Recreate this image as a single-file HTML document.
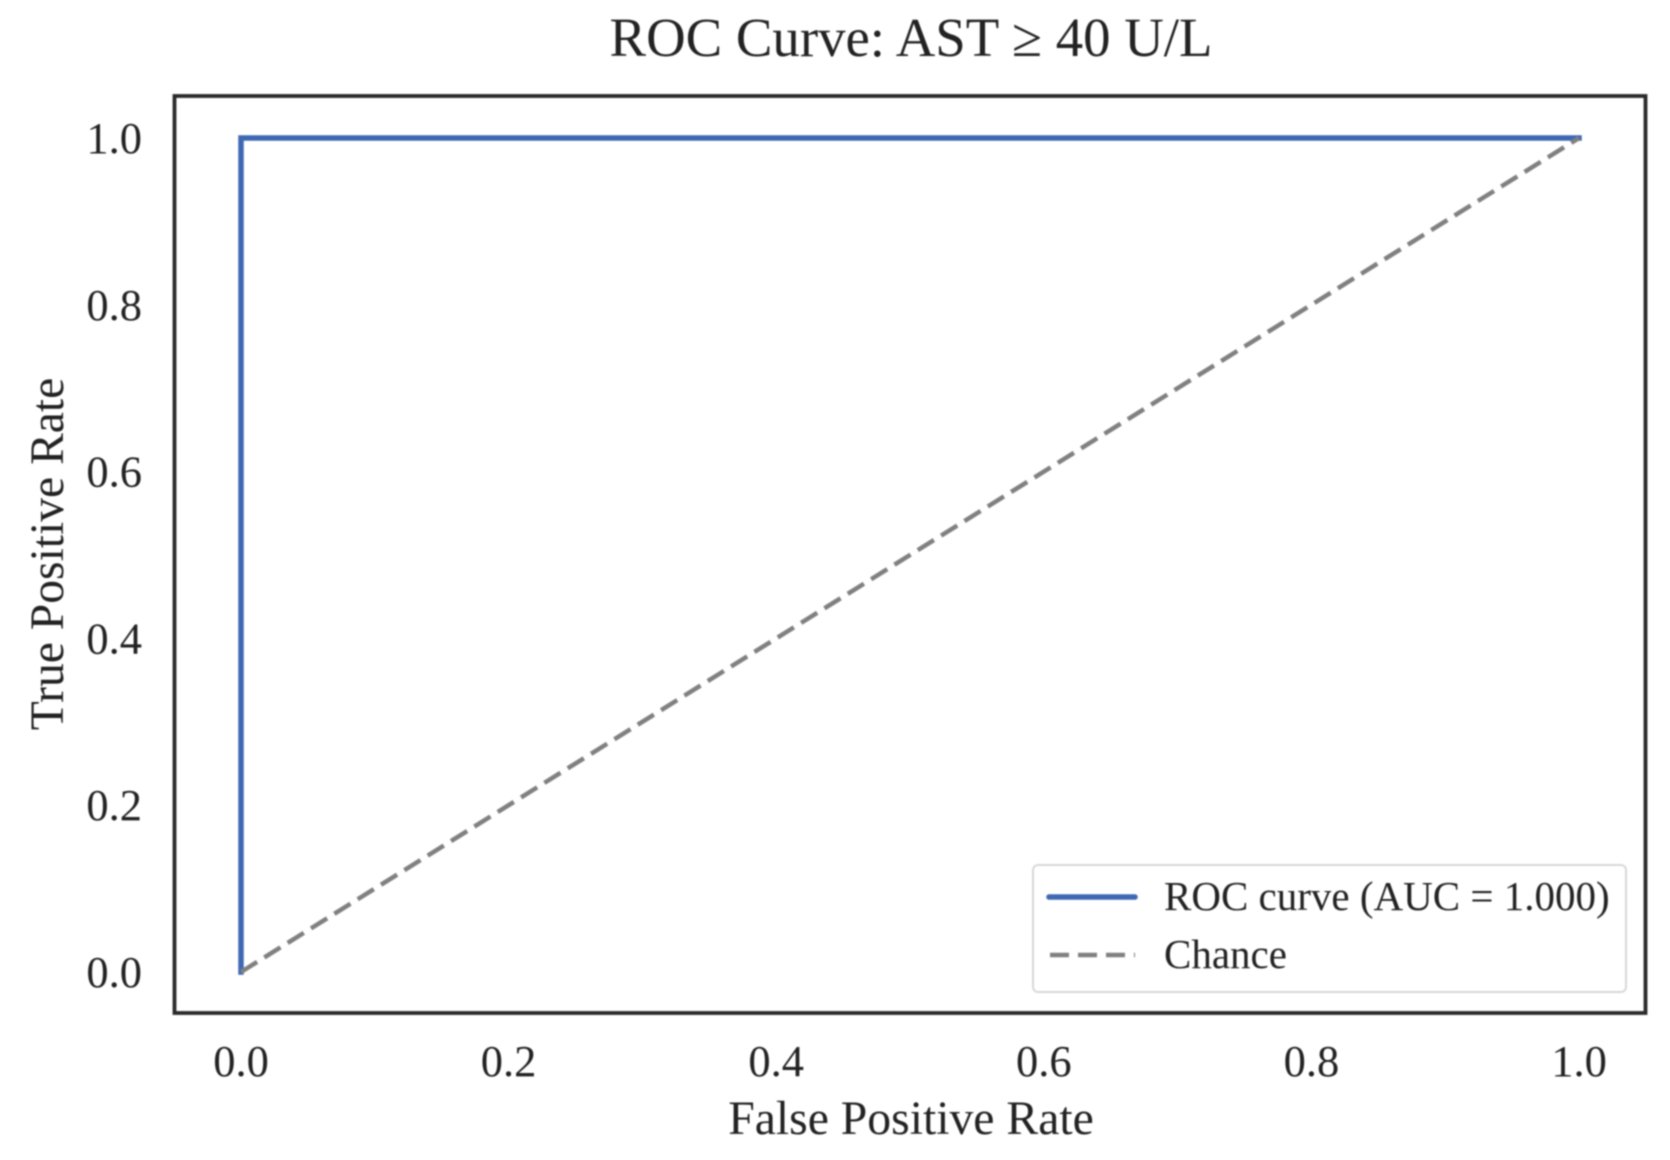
<!DOCTYPE html>
<html lang="en">
<head>
<meta charset="utf-8">
<title>ROC Curve: AST ≥ 40 U/L</title>
<style>
  html, body { margin: 0; padding: 0; background: #fff; }
  svg { display: block; filter: blur(0.9px); }
  text { font-family: "Liberation Serif", "Times New Roman", serif; fill: #222222; }
</style>
</head>
<body>
<svg id="chart" xmlns="http://www.w3.org/2000/svg" width="1670" height="1160" viewBox="0 0 1670 1160">
  <rect x="0" y="0" width="1670" height="1160" fill="#ffffff"/>
  <text x="911" y="56" font-size="54.8" text-anchor="middle">ROC Curve: AST ≥ 40 U/L</text>
  <rect x="174.5" y="96" width="1471" height="917" fill="#ffffff" stroke="#2a2a2a" stroke-width="3.8"/>
  <g id="x-ticks"></g>
  <g id="y-ticks"></g>
  <g id="series"></g>
  <text x="911" y="1134" font-size="47.7" text-anchor="middle">False Positive Rate</text>
  <text transform="translate(63 554) rotate(-90)" font-size="47.6" text-anchor="middle">True Positive Rate</text>
  <g>
    <rect x="1033" y="865" width="593" height="127" rx="5" fill="#ffffff" stroke="#d8d8d8" stroke-width="2"/>
    <line x1="1049" y1="897" x2="1135" y2="897" stroke="#3f68b3" stroke-width="5.5" stroke-linecap="round"/>
    <text x="1164" y="910" font-size="41">ROC curve (AUC = 1.000)</text>
    <line x1="1050" y1="955" x2="1135" y2="955" stroke="#808080" stroke-width="4.5" stroke-dasharray="19 9"/>
    <text x="1164" y="968" font-size="41">Chance</text>
  </g>
</svg>
<script>
const xTickValues = [0.0, 0.2, 0.4, 0.6, 0.8, 1.0];
const yTickValues = [0.0, 0.2, 0.4, 0.6, 0.8, 1.0];
const rocFpr = [0, 0, 1];
const rocTpr = [0, 1, 1];
const chanceFpr = [0, 1];
const chanceTpr = [0, 1];

const SVG_NS = 'http://www.w3.org/2000/svg';
function xScale(v) { return 241 + v * 1338; }
function yScale(v) { return 972 - v * 834; }
function pointsFor(xs, ys) {
  return xs.map(function (x, i) { return xScale(x) + ',' + yScale(ys[i]); }).join(' ');
}

const xTickGroup = document.getElementById('x-ticks');
xTickValues.forEach(function (v) {
  const t = document.createElementNS(SVG_NS, 'text');
  
  
  t.setAttribute('x', xScale(v));
  t.setAttribute('y', 1076);
  t.setAttribute('font-size', '44.5');
  t.setAttribute('text-anchor', 'middle');
  t.textContent = v.toFixed(1);
  xTickGroup.appendChild(t);
});

const yTickGroup = document.getElementById('y-ticks');
yTickValues.forEach(function (v) {
  const t = document.createElementNS(SVG_NS, 'text');
  
  
  t.setAttribute('x', 142);
  t.setAttribute('y', yScale(v) + 15);
  t.setAttribute('font-size', '44.5');
  t.setAttribute('text-anchor', 'end');
  t.textContent = v.toFixed(1);
  yTickGroup.appendChild(t);
});

const seriesGroup = document.getElementById('series');

const rocLine = document.createElementNS(SVG_NS, 'polyline');


rocLine.setAttribute('points', pointsFor(rocFpr, rocTpr));
rocLine.setAttribute('fill', 'none');
rocLine.setAttribute('stroke', '#3f68b3');
rocLine.setAttribute('stroke-width', '5.5');
rocLine.setAttribute('stroke-linecap', 'square');
seriesGroup.appendChild(rocLine);

const chanceLine = document.createElementNS(SVG_NS, 'polyline');


chanceLine.setAttribute('points', pointsFor(chanceFpr, chanceTpr));
chanceLine.setAttribute('fill', 'none');
chanceLine.setAttribute('stroke', '#808080');
chanceLine.setAttribute('stroke-width', '4.5');
chanceLine.setAttribute('stroke-dasharray', '19 8.5');
seriesGroup.appendChild(chanceLine);
</script>
</body>
</html>
